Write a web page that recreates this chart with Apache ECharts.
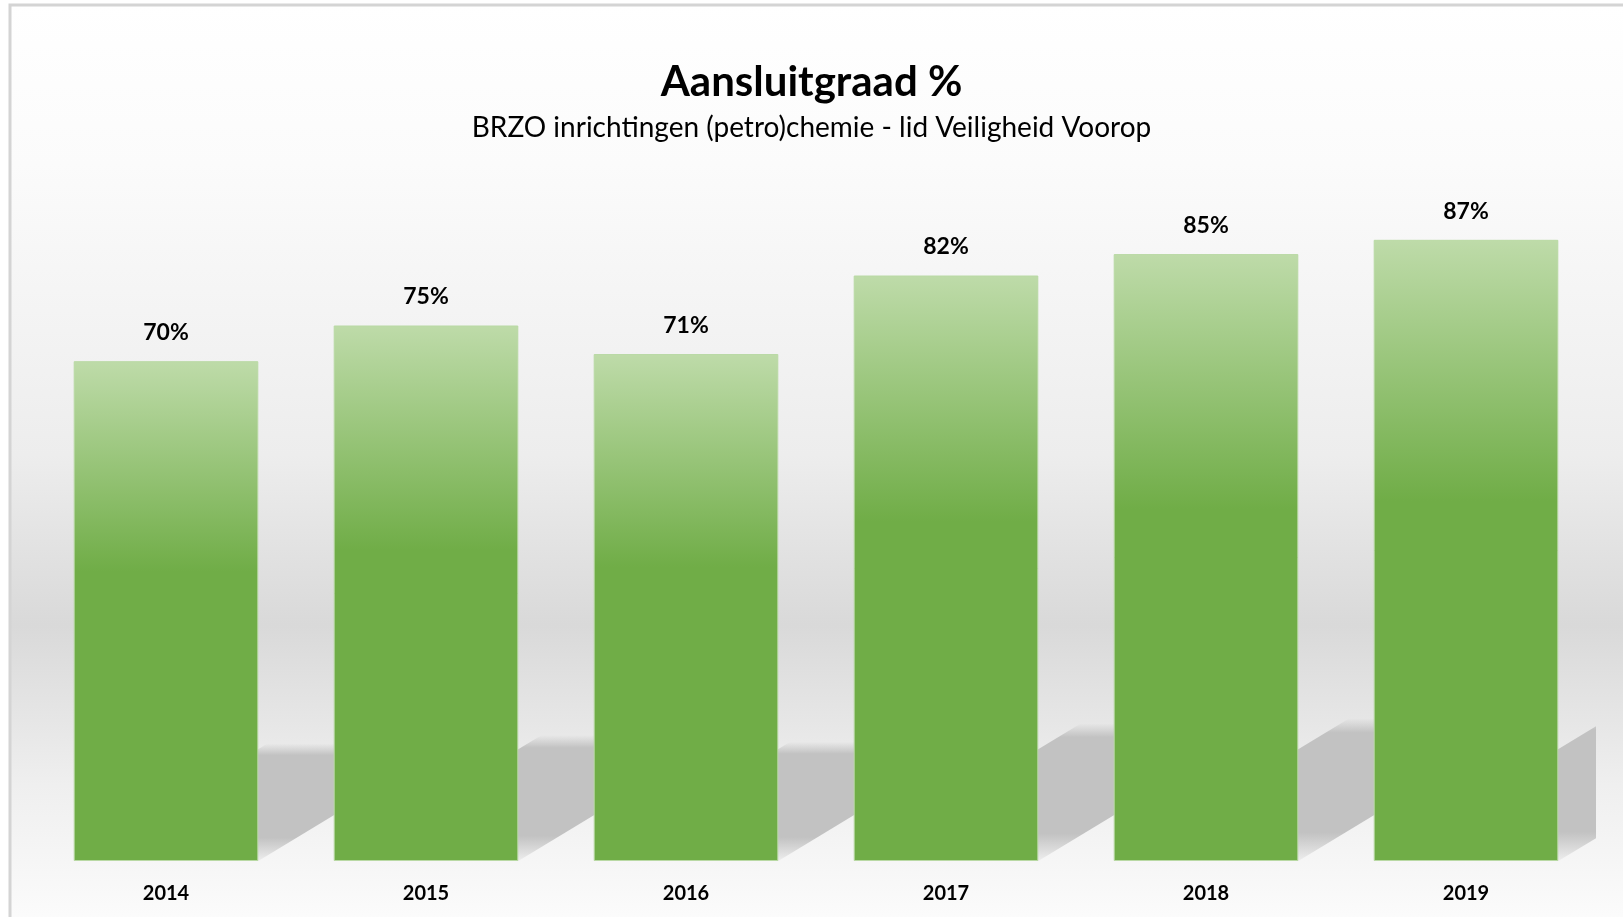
<!DOCTYPE html>
<html>
<head>
<meta charset="utf-8">
<title>Aansluitgraad %</title>
<script src="https://cdn.jsdelivr.net/npm/echarts@6/dist/echarts.min.js"></script>
<style>
    html, body { margin: 0; padding: 0; background: #fff; }
    #chart { width: 1623px; height: 917px; }
</style>
</head>
<body>
<div id="chart"></div>
<script>
// data
var years = ['2014', '2015', '2016', '2017', '2018', '2019'];
var aansluitgraad = [70, 75, 71, 82, 85, 87];

var font = 'Lato, "Open Sans", sans-serif';

var myChart = echarts.init(document.getElementById('chart'));

// soft floor shadow behind each bar, cast to the upper right
function renderShadow(params, api) {
    var base = api.coord([api.value(0), 0]);
    var top = api.coord([api.value(0), api.value(1)]);
    var bw = api.size([1, 0])[0] * 0.71;
    var h = (base[1] - top[1]) * 0.235;
    var dx = h * 1.65;
    return {
        type: 'polygon',
        shape: {
            points: [
                [base[0] - bw / 2, base[1]],
                [base[0] + bw / 2, base[1]],
                [base[0] + bw / 2 + dx, base[1] - h],
                [base[0] - bw / 2 + dx, base[1] - h]
            ]
        },
        style: {
            fill: new echarts.graphic.LinearGradient(0, 0, 0, 1, [
                {offset: 0, color: 'rgba(194,194,194,0)'},
                {offset: 0.1, color: 'rgba(194,194,194,1)'},
                {offset: 0.8, color: 'rgba(194,194,194,1)'},
                {offset: 1, color: 'rgba(194,194,194,0.15)'}
            ])
        }
    };
}

var option = {
    backgroundColor: '#ffffff',
    graphic: [{
        type: 'rect',
        z: -10,
        silent: true,
        shape: {x: 10, y: 5, width: 1700, height: 1000},
        style: {
            stroke: '#d4d4d4',
            lineWidth: 3,
            fill: new echarts.graphic.LinearGradient(0, 0, 0, 1, [
                {offset: 0, color: '#ffffff'},
                {offset: 0.16, color: '#fbfbfb'},
                {offset: 0.45, color: '#ededed'},
                {offset: 0.62, color: '#d9d9d9'},
                {offset: 0.78, color: '#efefef'},
                {offset: 0.92, color: '#fcfcfc'},
                {offset: 1, color: '#ffffff'}
            ])
        }
    }],
    title: [{
        text: 'Aansluitgraad %',
        left: 'center',
        top: 56,
        textStyle: {fontFamily: font, fontWeight: 'bold', fontSize: 42, color: '#000'}
    }, {
        text: 'BRZO inrichtingen (petro)chemie - lid Veiligheid Voorop',
        left: 'center',
        top: 109,
        textStyle: {fontFamily: font, fontWeight: 'normal', fontSize: 28, color: '#000'}
    }],
    grid: {left: 36, right: 27, top: 147, bottom: 56},
    xAxis: {
        type: 'category',
        data: years,
        axisLine: {show: false},
        axisTick: {show: false},
        axisLabel: {
            margin: 23,
            color: '#000',
            fontFamily: font,
            fontWeight: 'bold',
            fontSize: 20
        }
    },
    yAxis: {
        type: 'value',
        min: 0,
        max: 100,
        show: false
    },
    series: [{
        type: 'custom',
        z: 1,
        clip: true,
        renderItem: renderShadow,
        data: years.map(function (y, i) { return [i, aansluitgraad[i]]; })
    }, {
        type: 'bar',
        z: 2,
        data: aansluitgraad,
        barCategoryGap: '29%',
        itemStyle: {
            color: new echarts.graphic.LinearGradient(0, 0, 0, 1, [
                {offset: 0, color: '#bedba9'},
                {offset: 0.42, color: '#70ad47'},
                {offset: 1, color: '#70ad47'}
            ]),
            borderColor: '#b9d9a4',
            borderWidth: 1
        },
        label: {
            show: true,
            position: 'top',
            distance: 17,
            formatter: '{c}%',
            color: '#000',
            fontFamily: font,
            fontWeight: 'bold',
            fontSize: 23
        }
    }]
};
myChart.setOption(option);
</script>
</body>
</html>
